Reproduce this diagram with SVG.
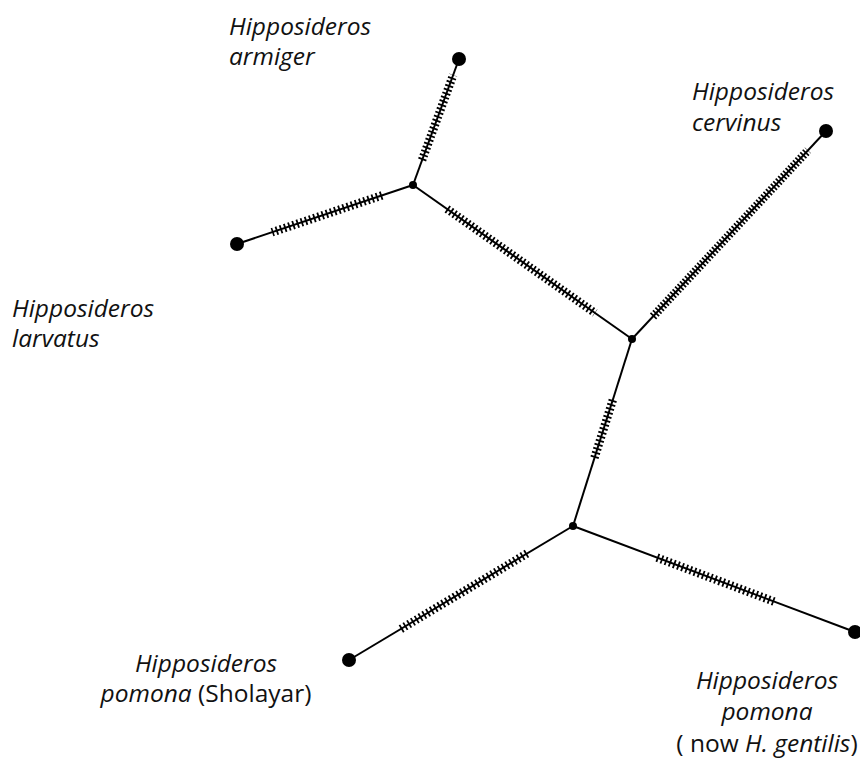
<svg xmlns="http://www.w3.org/2000/svg" width="860" height="763" viewBox="0 0 860 763">
  <style>
    .branch { stroke: #000; stroke-width: 2; fill: none; }
    .hatch { stroke: #000; stroke-width: 8.5; fill: none; }
    .tip { fill: #000; }
    .inner { fill: #000; }
    .lbl { font-family: "Open Sans", "Noto Sans", sans-serif; font-size: 24.5px; fill: #111; }
    .it { font-style: italic; }
  </style>
  <rect width="860" height="763" fill="#fff"/>

  <!-- branches, with mutation hatch marks drawn as dashed wide strokes -->
  <g id="connectors">
    <line class="branch" x1="413" y1="185" x2="459" y2="59"/>
    <line class="branch" x1="413" y1="185" x2="237" y2="244"/>
    <line class="branch" x1="413" y1="185" x2="632" y2="339"/>
    <line class="branch" x1="632" y1="339" x2="826" y2="131"/>
    <line class="branch" x1="632" y1="339" x2="573" y2="526"/>
    <line class="branch" x1="573" y1="526" x2="349" y2="660"/>
    <line class="branch" x1="573" y1="526" x2="855" y2="632"/>

    <line class="hatch" x1="422.1" y1="160" x2="453.2" y2="75" stroke-dasharray="1.8 2.3"/>
    <line class="hatch" x1="382" y1="195.4" x2="272" y2="232.3" stroke-dasharray="1.8 2.6"/>
    <line class="hatch" x1="447" y1="208.9" x2="595" y2="313" stroke-dasharray="1.8 2.4"/>
    <line class="hatch" x1="653" y1="316.5" x2="808" y2="150.3" stroke-dasharray="1.7 1.9"/>
    <line class="hatch" x1="612.8" y1="400" x2="594.4" y2="458" stroke-dasharray="1.8 2.4"/>
    <line class="hatch" x1="527" y1="553.5" x2="400" y2="629.5" stroke-dasharray="1.8 2.6"/>
    <line class="hatch" x1="657" y1="557.6" x2="775" y2="601.9" stroke-dasharray="1.8 2.6"/>
  </g>

  <!-- internal vertices -->
  <g id="node-b"><circle class="inner" cx="413" cy="185" r="4"/></g>
  <g id="node-d"><circle class="inner" cx="632" cy="339" r="4"/></g>
  <g id="node-f"><circle class="inner" cx="573" cy="526" r="4"/></g>

  <!-- sampled taxa -->
  <g id="armiger">
    <circle class="tip" cx="459" cy="59" r="7"/>
    <text class="lbl it" x="229" y="35">Hipposideros</text>
    <text class="lbl it" x="229" y="65">armiger</text>
  </g>
  <g id="larvatus">
    <circle class="tip" cx="237" cy="244" r="7"/>
    <text class="lbl it" x="12" y="317">Hipposideros</text>
    <text class="lbl it" x="12" y="347">larvatus</text>
  </g>
  <g id="cervinus">
    <circle class="tip" cx="826" cy="131" r="7"/>
    <text class="lbl it" x="692" y="100">Hipposideros</text>
    <text class="lbl it" x="692" y="131">cervinus</text>
  </g>
  <g id="pomona-sholayar">
    <circle class="tip" cx="349" cy="660" r="7"/>
    <text class="lbl it" x="206" y="672" text-anchor="middle">Hipposideros</text>
    <text class="lbl" x="206" y="702" text-anchor="middle"><tspan class="it">pomona</tspan> (Sholayar)</text>
  </g>
  <g id="pomona-gentilis">
    <circle class="tip" cx="855" cy="632" r="7"/>
    <text class="lbl it" x="767" y="689" text-anchor="middle">Hipposideros</text>
    <text class="lbl it" x="767" y="720" text-anchor="middle">pomona</text>
    <text class="lbl" x="767" y="752" text-anchor="middle">( now <tspan class="it">H. gentilis</tspan>)</text>
  </g>
</svg>
